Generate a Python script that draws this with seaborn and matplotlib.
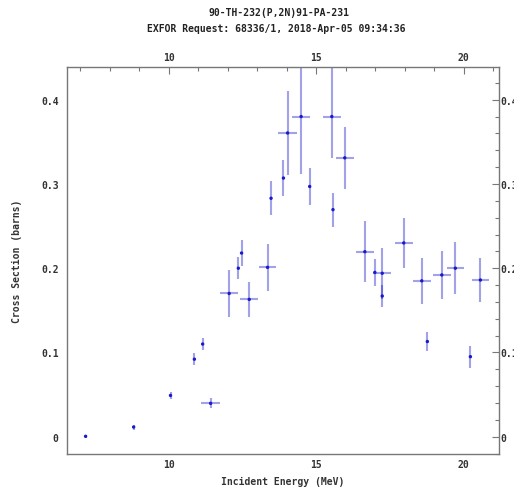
import numpy as np
import pandas as pd
import matplotlib
matplotlib.use("Agg")
import matplotlib.pyplot as plt
import seaborn as sns
from matplotlib.ticker import MultipleLocator, FuncFormatter

title1 = "90-TH-232(P,2N)91-PA-231"
title2 = "EXFOR Request: 68336/1, 2018-Apr-05 09:34:36"
xlabel = "Incident Energy (MeV)"
ylabel = "Cross Section (barns)"

energy = [7.18, 8.81, 10.06, 10.87, 11.15, 11.42, 12.05, 12.36, 12.47, 12.73,
          13.35, 13.47, 13.89, 14.03, 14.49, 14.78, 15.53, 15.57, 15.97, 16.65,
          16.99, 17.24, 17.24, 17.97, 18.58, 18.77, 19.26, 19.72, 20.23, 20.57]
energy_err = [0, 0, 0, 0, 0, 0.31, 0.3, 0, 0, 0.3,
              0.3, 0, 0, 0.31, 0.31, 0, 0.31, 0, 0.31, 0.3,
              0, 0.31, 0, 0.3, 0.3, 0, 0.3, 0.3, 0, 0.3]
xs = [0.0005, 0.0115, 0.049, 0.092, 0.110, 0.0396, 0.170, 0.200, 0.218, 0.163,
      0.201, 0.283, 0.307, 0.3605, 0.380, 0.297, 0.380, 0.2695, 0.331, 0.2196,
      0.195, 0.194, 0.167, 0.230, 0.185, 0.113, 0.192, 0.200, 0.095, 0.186]
xs_err_lo = [0.002, 0.003, 0.004, 0.007, 0.007, 0.006, 0.028, 0.013, 0.015, 0.021,
             0.028, 0.020, 0.021, 0.050, 0.068, 0.0215, 0.049, 0.020, 0.037, 0.036,
             0.016, 0.030, 0.013, 0.030, 0.027, 0.011, 0.028, 0.031, 0.013, 0.026]
xs_err_hi = [0.002, 0.003, 0.004, 0.007, 0.007, 0.006, 0.028, 0.013, 0.015, 0.021,
             0.028, 0.020, 0.021, 0.050, 0.068, 0.0215, 0.070, 0.020, 0.037, 0.036,
             0.016, 0.030, 0.013, 0.030, 0.027, 0.011, 0.028, 0.031, 0.013, 0.026]

df = pd.DataFrame({"E": energy, "dE": energy_err, "sig": xs,
                   "lo": xs_err_lo, "hi": xs_err_hi})

sns.set_style("white")
plt.rcParams['font.family'] = ['DejaVu Sans Mono', 'DejaVu Sans']

fig = plt.figure(figsize=(5.14, 4.89), dpi=100)
ax = fig.add_axes([67/514, 1-455/489, 432/514, 387/489])

blue = "#2222cc"
ax.errorbar(df["E"], df["sig"], xerr=df["dE"], yerr=[df["lo"], df["hi"]],
            fmt="none", ecolor=blue, alpha=0.42, elinewidth=1.5, capsize=0, zorder=2)
sns.scatterplot(data=df, x="E", y="sig", ax=ax, color="#1a1acc", s=6,
                edgecolor="none", zorder=3, legend=False)

ax.set_xlim(6.55, 21.2)
ax.set_ylim(-0.0205, 0.4388)

fmt_y = FuncFormatter(lambda v, p: "0" if abs(v) < 1e-9 else f"{v:.1f}")
ax.xaxis.set_major_locator(MultipleLocator(5))
ax.xaxis.set_minor_locator(MultipleLocator(1))
ax.yaxis.set_major_locator(MultipleLocator(0.1))
ax.yaxis.set_minor_locator(MultipleLocator(0.02))
ax.yaxis.set_major_formatter(fmt_y)

tick_color = "#333333"
ax.tick_params(axis="both", which="both", direction="in", top=True, right=True,
               labeltop=True, labelright=False, colors="#777777",
               labelcolor=tick_color, labelsize=7)
ax.tick_params(axis="both", which="major", length=5, width=0.8)
ax.tick_params(axis="both", which="minor", length=3, width=0.8)
ax.tick_params(axis="y", which="major", pad=6)

# right-hand labels, partly running off the figure edge as in the reference
sec = ax.secondary_yaxis("right")
sec.yaxis.set_major_locator(MultipleLocator(0.1))
sec.yaxis.set_major_formatter(fmt_y)
sec.tick_params(axis="y", which="both", direction="in", length=0, pad=1,
                labelsize=7, labelcolor=tick_color)
sec.spines["right"].set_visible(False)
for lab in sec.get_yticklabels():
    lab.set_fontweight("bold")

for lab in ax.get_xticklabels() + ax.get_yticklabels():
    lab.set_fontweight("bold")

for sp in ax.spines.values():
    sp.set_color("#777777")
    sp.set_linewidth(1.0)

ax.set_xlabel(xlabel, fontsize=7, fontweight="bold", color=tick_color, labelpad=5)
ax.set_ylabel(ylabel, fontsize=7, fontweight="bold", color=tick_color, labelpad=14)

fig.text(279/514, 1-12.5/489, title1, ha="center", va="center",
         fontsize=7, fontweight="bold", color="#222222")
fig.text(276/514, 1-29.5/489, title2, ha="center", va="center",
         fontsize=7, fontweight="bold", color="#222222")

fig.savefig("out.png", dpi=100)
